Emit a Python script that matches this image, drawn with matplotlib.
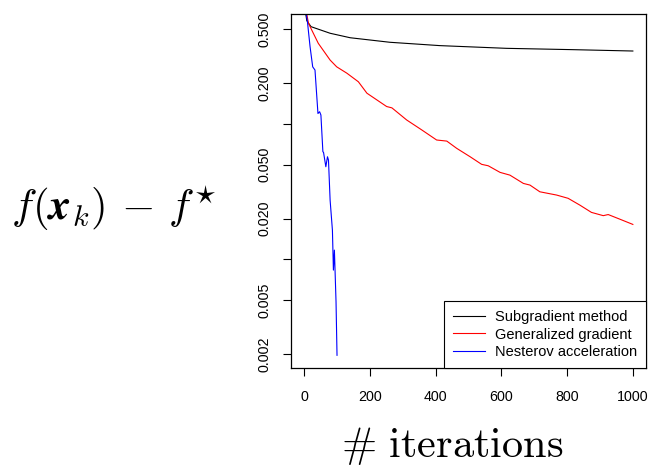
import matplotlib
matplotlib.use("Agg")
import matplotlib.pyplot as plt
from matplotlib.ticker import FixedLocator, NullLocator

plt.rcParams['mathtext.fontset'] = 'cm'
plt.rcParams['font.family'] = ['Liberation Sans', 'DejaVu Sans']

# --- data ---
sub_it = [1, 8, 21, 79, 140, 261, 413, 616, 818, 1000]
sub_val = [0.75, 0.576, 0.52, 0.465, 0.431, 0.399, 0.377, 0.360, 0.352, 0.344]

gen_it = [1, 8, 13, 43, 79, 99, 130, 165, 191, 251, 267, 312, 358, 403, 434, 464,
          505, 540, 560, 596, 626, 667, 687, 717, 768, 803, 839, 874, 910, 925, 960, 1000]
gen_val = [0.75, 0.645, 0.551, 0.392, 0.295, 0.263, 0.236, 0.204, 0.168, 0.134, 0.131,
           0.1066, 0.090, 0.0759, 0.0745, 0.0659, 0.0571, 0.0502, 0.049, 0.0438, 0.0418,
           0.0363, 0.0353, 0.0315, 0.0298, 0.0282, 0.0251, 0.0222, 0.021, 0.0214, 0.0198, 0.0181]

nes_it = [1, 6, 10, 18, 26, 33, 42, 47, 51, 57, 59, 66, 71, 74, 79, 86, 89, 92, 94, 97, 100]
nes_val = [0.75, 0.653, 0.566, 0.370, 0.263, 0.249, 0.119, 0.1227, 0.116, 0.0622, 0.0615,
           0.0482, 0.0571, 0.054, 0.0273, 0.0164, 0.00833, 0.0117, 0.0083, 0.00486, 0.00196]

y_ticks = [0.002, 0.005, 0.01, 0.02, 0.05, 0.1, 0.2, 0.5]
y_labels = ['0.002', '0.005', '', '0.020', '0.050', '', '0.200', '0.500']
x_ticks = [0, 200, 400, 600, 800, 1000]

labels = ['Subgradient method', 'Generalized gradient', 'Nesterov acceleration']
colors = ['black', 'red', 'blue']

W, H = 649, 468
fig = plt.figure(figsize=(W / 100, H / 100), dpi=100)
ax = fig.add_axes([291 / W, 1 - 368 / H, (646 - 291) / W, (368 - 14) / H])

ax.plot(sub_it, sub_val, color=colors[0], lw=0.8, label=labels[0])
ax.plot(gen_it, gen_val, color=colors[1], lw=0.8, label=labels[1])
ax.plot(nes_it, nes_val, color=colors[2], lw=0.8, label=labels[2])

ax.set_yscale('log')
ax.set_xlim(-40, 1040)
ax.set_ylim(0.00158, 0.645)
ax.yaxis.set_major_locator(FixedLocator(y_ticks))
ax.yaxis.set_minor_locator(NullLocator())
ax.set_yticks(y_ticks)
ax.set_yticklabels(y_labels, rotation=90, va='center')
ax.set_xticks(x_ticks)
ax.set_xticklabels([str(v) for v in x_ticks])

ax.tick_params(axis='both', which='major', length=6, width=0.8, labelsize=10.3, direction='out')
ax.tick_params(axis='x', pad=10)
ax.tick_params(axis='y', pad=8)

for s in ax.spines.values():
    s.set_linewidth(0.9)

leg = ax.legend(loc='lower right', fontsize=10.5, frameon=True, fancybox=False,
                edgecolor='black', framealpha=1, borderaxespad=0, borderpad=0.6,
                handlelength=2.2, handletextpad=0.7, labelspacing=0.25)
leg.get_frame().set_linewidth(0.8)

fig.text(114 / W, 1 - 208 / H, r'$f(\boldsymbol{x}_k)\,-\,f^{\star}$', fontsize=31,
         ha='center', va='center')
fig.text(452 / W, 1 - 456.7 / H, r'$\#\ \mathrm{iterations}$', fontsize=30.5,
         ha='center', va='baseline')

fig.savefig('out.png', dpi=100)
